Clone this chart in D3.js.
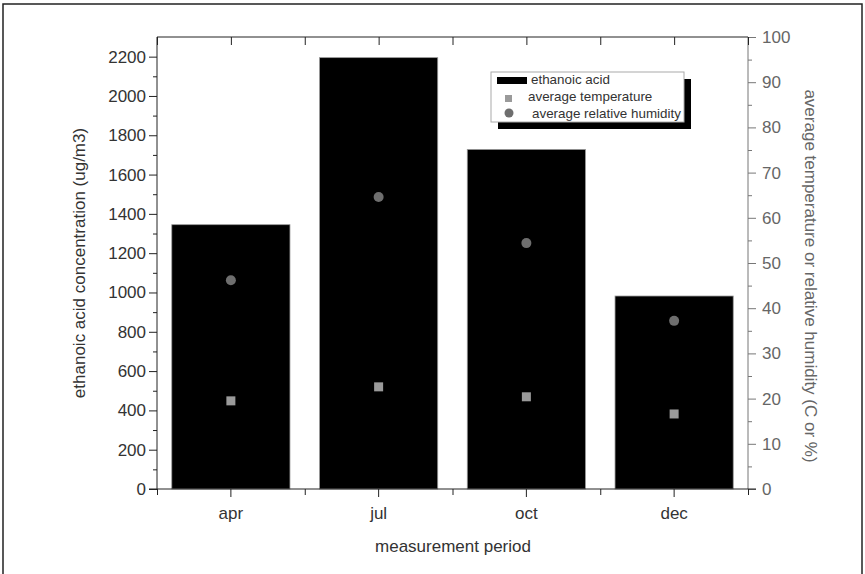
<!DOCTYPE html>
<html>
<head>
<meta charset="utf-8">
<script src="https://cdn.jsdelivr.net/npm/d3@7"></script>
<style>
  body { margin: 0; background: #fff; }
  svg { display: block; font-family: "Liberation Sans", Arial, sans-serif; }
  .axis path, .axis line { stroke: #222; }
  .axis text { fill: #333; font-size: 17px; }
  .right path, .right line { stroke: #777; }
  .right text { fill: #666; }
</style>
</head>
<body>
<svg id="chart" width="865" height="574"></svg>
<script>
// values
const months = ["apr", "jul", "oct", "dec"];
const acid = [1345, 2195, 1728, 982];          // ug/m3, left axis
const temperature = [19.5, 22.6, 20.4, 16.6];   // C, right axis
const humidity = [46.2, 64.6, 54.4, 37.2];      // %, right axis
const leftTicks = d3.range(0, 2201, 200);
const rightTicks = d3.range(0, 101, 10);

const svg = d3.select("#chart");
const plotL = 157, plotR = 748, plotT = 37, plotB = 489;

// outer frame of the figure
svg.append("rect")
    .attr("x", 3).attr("y", 4).attr("width", 859).attr("height", 600)
    .attr("fill", "none").attr("stroke", "#222").attr("stroke-width", 1.5);

const x = d3.scaleBand().domain(months).range([plotL, plotR])
    .paddingInner(0.2).paddingOuter(0.1);
const xl = d3.scaleLinear().domain([0, 4]).range([plotL, plotR]);
const yL = d3.scaleLinear().domain([0, 2300]).range([plotB, plotT]);
const yR = d3.scaleLinear().domain([0, 100]).range([plotB, plotT]);

// bars
svg.append("g").selectAll("rect")
    .data(months)
    .join("rect")
    .attr("x", d => x(d))
    .attr("width", x.bandwidth())
    .attr("y", (d, i) => yL(acid[i]))
    .attr("height", (d, i) => yL(0) - yL(acid[i]))
    .attr("fill", "#000")
    .attr("stroke", "#999")
    .attr("stroke-width", 0.8);

// temperature squares
const sq = 9;
svg.append("g").selectAll("rect")
    .data(months)
    .join("rect")
    .attr("x", d => x(d) + x.bandwidth() / 2 - sq / 2)
    .attr("y", (d, i) => yR(temperature[i]) - sq / 2)
    .attr("width", sq).attr("height", sq)
    .attr("fill", "#9a9a9a");

// humidity circles
svg.append("g").selectAll("circle")
    .data(months)
    .join("circle")
    .attr("cx", d => x(d) + x.bandwidth() / 2)
    .attr("cy", (d, i) => yR(humidity[i]))
    .attr("r", 5)
    .attr("fill", "#6e6e6e");

// left axis, major and minor ticks
svg.append("g").attr("class", "axis")
    .attr("transform", `translate(${plotL},0)`)
    .call(d3.axisLeft(yL).tickValues(leftTicks).tickFormat(d3.format("d")).tickSize(8).tickPadding(3))
    .call(g => g.select(".domain").attr("d", `M0,${plotT}V${plotB}`));
svg.append("g").attr("class", "axis")
    .attr("transform", `translate(${plotL},0)`)
    .call(d3.axisLeft(yL).tickValues(d3.range(100, 2300, 200)).tickSize(4).tickFormat(""))
    .call(g => g.select(".domain").remove());

// right axis
svg.append("g").attr("class", "axis right")
    .attr("transform", `translate(${plotR},0)`)
    .call(d3.axisRight(yR).tickValues(rightTicks).tickSize(8).tickPadding(6))
    .call(g => g.select(".domain").attr("d", `M0,${plotT}V${plotB}`));
svg.append("g").attr("class", "axis right")
    .attr("transform", `translate(${plotR},0)`)
    .call(d3.axisRight(yR).tickValues(d3.range(5, 100, 10)).tickSize(4).tickFormat(""))
    .call(g => g.select(".domain").remove());

// bottom axis: labels at bar centres, minor ticks at the boundaries
svg.append("g").attr("class", "axis")
    .attr("transform", `translate(0,${plotB})`)
    .call(d3.axisBottom(x).tickSize(8).tickPadding(10).tickSizeOuter(0))
    .call(g => g.select(".domain").attr("d", `M${plotL - 8},0H${plotR + 8}`));
svg.append("g").attr("class", "axis")
    .attr("transform", `translate(0,${plotB})`)
    .call(d3.axisBottom(xl).tickValues([0, 1, 2, 3, 4]).tickSize(6).tickFormat(""))
    .call(g => g.select(".domain").remove());

// top axis, ticks pointing into the plot
svg.append("g").attr("class", "axis")
    .attr("transform", `translate(0,${plotT})`)
    .call(d3.axisTop(xl).tickValues(d3.range(0, 4.01, 0.5)).tickSize(-8).tickFormat(""))
    .call(g => g.select(".domain").attr("d", `M${plotL},0H${plotR}`));

// axis titles
svg.append("text")
    .attr("transform", `translate(85,${(plotT + plotB) / 2}) rotate(-90)`)
    .attr("text-anchor", "middle")
    .attr("font-size", 17).attr("fill", "#333")
    .text("ethanoic acid concentration (ug/m3)");
svg.append("text")
    .attr("transform", `translate(805,276) rotate(90)`)
    .attr("text-anchor", "middle")
    .attr("font-size", 17).attr("fill", "#666")
    .text("average temperature or relative humidity (C or %)");
svg.append("text")
    .attr("x", 453).attr("y", 552)
    .attr("text-anchor", "middle")
    .attr("font-size", 17).attr("fill", "#333")
    .text("measurement period");

// legend with drop shadow
const lg = svg.append("g").attr("transform", "translate(491,72)");
lg.append("rect").attr("x", 7).attr("y", 7).attr("width", 193).attr("height", 50).attr("fill", "#000");
lg.append("rect").attr("width", 193).attr("height", 50)
    .attr("fill", "#fff").attr("stroke", "#aaa").attr("stroke-width", 1);
lg.append("rect").attr("x", 6).attr("y", 5).attr("width", 30).attr("height", 7).attr("fill", "#000");
lg.append("rect").attr("x", 14).attr("y", 23).attr("width", 7).attr("height", 7).attr("fill", "#9a9a9a");
lg.append("circle").attr("cx", 18).attr("cy", 41).attr("r", 4.5).attr("fill", "#6e6e6e");
const legendText = ["ethanoic acid", "average temperature", "average relative humidity"];
lg.selectAll("text.item")
    .data(legendText)
    .join("text")
    .attr("class", "item")
    .attr("x", (d, i) => [40, 37, 41][i])
    .attr("y", (d, i) => 12 + i * 17)
    .attr("font-size", 13.4).attr("fill", "#333")
    .text(d => d);
</script>
</body>
</html>
